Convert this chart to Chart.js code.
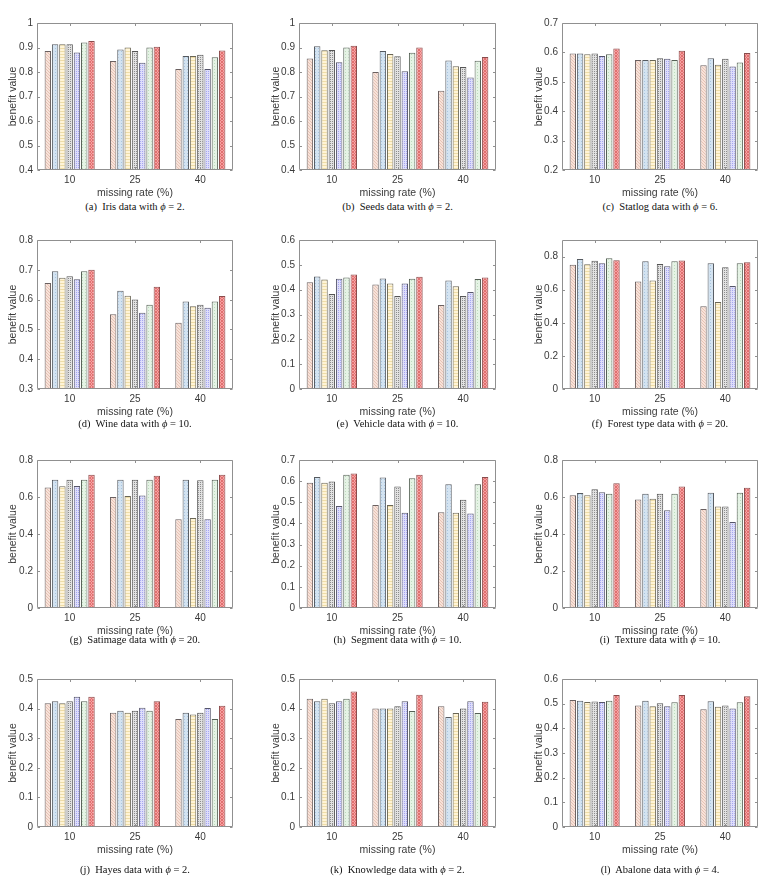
<!DOCTYPE html>
<html>
<head>
<meta charset="utf-8">
<script src="https://cdn.jsdelivr.net/npm/chart.js@4"></script>
<style>
  html, body { margin: 0; padding: 0; background: #fff; }
  #page { position: relative; width: 777px; height: 890px; overflow: hidden; }
  .caption { position: absolute; font-family: 'Liberation Serif', 'Times New Roman', serif; font-size: 10.5px; color: #111; white-space: nowrap; transform: translateX(-50%); line-height: 12px; }
  .caption i { font-family: 'Liberation Serif', 'DejaVu Serif', serif; }
</style>
</head>
<body>
<div id="page"></div>
<script>
const categories = ['10', '25', '40'];
const seriesNames = ['method 1', 'method 2', 'method 3', 'method 4', 'method 5', 'method 6', 'method 7'];

// one row per missing rate (10, 25, 40), one value per method
const iris = [
  [0.886, 0.913, 0.913, 0.913, 0.880, 0.920, 0.927],
  [0.845, 0.892, 0.900, 0.886, 0.838, 0.900, 0.903],
  [0.812, 0.865, 0.865, 0.870, 0.812, 0.860, 0.888]
];
const seeds = [
  [0.855, 0.905, 0.889, 0.890, 0.840, 0.900, 0.907],
  [0.800, 0.886, 0.873, 0.864, 0.803, 0.879, 0.900],
  [0.723, 0.847, 0.823, 0.820, 0.778, 0.846, 0.861]
];
const statlog = [
  [0.596, 0.596, 0.594, 0.596, 0.588, 0.594, 0.613],
  [0.574, 0.574, 0.574, 0.580, 0.578, 0.574, 0.606],
  [0.556, 0.580, 0.558, 0.578, 0.552, 0.566, 0.598]
];
const wine = [
  [0.656, 0.695, 0.673, 0.678, 0.668, 0.695, 0.700],
  [0.551, 0.630, 0.613, 0.600, 0.556, 0.583, 0.643],
  [0.522, 0.594, 0.578, 0.583, 0.573, 0.594, 0.612]
];
const vehicle = [
  [0.430, 0.453, 0.441, 0.383, 0.444, 0.449, 0.461],
  [0.421, 0.445, 0.425, 0.374, 0.425, 0.444, 0.452],
  [0.338, 0.437, 0.414, 0.374, 0.391, 0.443, 0.449]
];
const forestType = [
  [0.750, 0.785, 0.753, 0.775, 0.760, 0.790, 0.777],
  [0.650, 0.772, 0.655, 0.755, 0.741, 0.772, 0.776],
  [0.500, 0.760, 0.525, 0.735, 0.622, 0.760, 0.766]
];
const satimage = [
  [0.652, 0.693, 0.658, 0.693, 0.660, 0.693, 0.720],
  [0.600, 0.693, 0.606, 0.693, 0.608, 0.693, 0.715],
  [0.480, 0.693, 0.487, 0.690, 0.480, 0.693, 0.720]
];
const segment = [
  [0.592, 0.620, 0.592, 0.598, 0.482, 0.630, 0.636],
  [0.487, 0.617, 0.487, 0.575, 0.450, 0.614, 0.630],
  [0.453, 0.585, 0.450, 0.512, 0.447, 0.585, 0.620]
];
const texture = [
  [0.610, 0.622, 0.610, 0.642, 0.626, 0.618, 0.675],
  [0.587, 0.618, 0.590, 0.618, 0.528, 0.618, 0.657],
  [0.535, 0.623, 0.548, 0.548, 0.465, 0.623, 0.650]
];
const hayes = [
  [0.418, 0.425, 0.418, 0.425, 0.440, 0.425, 0.440],
  [0.386, 0.393, 0.386, 0.393, 0.403, 0.393, 0.425],
  [0.365, 0.386, 0.380, 0.386, 0.402, 0.365, 0.410]
];
const knowledge = [
  [0.433, 0.425, 0.433, 0.418, 0.425, 0.433, 0.458],
  [0.400, 0.400, 0.400, 0.408, 0.425, 0.392, 0.447],
  [0.408, 0.372, 0.385, 0.400, 0.425, 0.385, 0.423]
];
const abalone = [
  [0.515, 0.512, 0.507, 0.509, 0.507, 0.512, 0.535],
  [0.493, 0.512, 0.490, 0.502, 0.490, 0.506, 0.535],
  [0.477, 0.510, 0.488, 0.493, 0.480, 0.506, 0.530]
];

const panelData = [iris, seeds, statlog, wine, vehicle, forestType, satimage, segment, texture, hayes, knowledge, abalone];
const panelLetters = ['a', 'b', 'c', 'd', 'e', 'f', 'g', 'h', 'i', 'j', 'k', 'l'];
const panelNames = ['Iris', 'Seeds', 'Statlog', 'Wine', 'Vehicle', 'Forest type', 'Satimage', 'Segment', 'Texture', 'Hayes', 'Knowledge', 'Abalone'];
const phiValues = [2, 2, 6, 10, 10, 20, 20, 10, 10, 2, 2, 4];
const yMin = [0.4, 0.4, 0.2, 0.3, 0, 0, 0, 0, 0, 0, 0, 0];
const yMax = [1, 1, 0.7, 0.8, 0.6, 0.9, 0.8, 0.7, 0.8, 0.5, 0.5, 0.6];
const yStep = [0.1, 0.1, 0.1, 0.1, 0.1, 0.2, 0.2, 0.1, 0.2, 0.1, 0.1, 0.1];

const colLeft = [0, 260, 520];
const colWidth = [258, 258, 257];
const plotLeft = [37, 299, 562];
const plotRight = [233, 496, 758];
const yTitleX = [13, 276, 539];
const plotTop = [23, 240, 460, 679];
const plotBottom = [170, 389, 608, 827];
const captionY = [207, 424, 640, 870];
const xAxisHeight = 31;

const textColor = '#3a3a3a';
const frameColor = '#909090';
const tickFont = { family: "'Liberation Sans', Arial, sans-serif", size: 10 };
const titleFont = { family: "'Liberation Sans', Arial, sans-serif", size: 10.5 };

function makePattern(size, base, ink, cells) {
  const c = document.createElement('canvas');
  c.width = size; c.height = size;
  const g = c.getContext('2d');
  g.fillStyle = base;
  g.fillRect(0, 0, size, size);
  g.fillStyle = ink;
  cells.forEach(([x, y]) => g.fillRect(x, y, 1, 1));
  return g.createPattern(c, 'repeat');
}

const fills = [
  makePattern(3, '#f7e2d9', '#e6c2b4', [[0, 0], [1, 1], [2, 2]]),
  makePattern(3, '#d3e3f1', '#a9c5df', [[1, 1]]),
  makePattern(3, '#fff4d6', '#eedca6', [[0, 1], [1, 1], [2, 1]]),
  makePattern(2, '#e2e2e2', '#8c8c8c', [[0, 0]]),
  makePattern(2, '#dedefa', '#a6a6f0', [[0, 0]]),
  makePattern(3, '#e5f3e5', '#bcdabc', [[1, 1]]),
  makePattern(3, '#f6a2a2', '#e07070', [[0, 0], [2, 0], [1, 1], [0, 2], [2, 2]])
];
const edgeColors = ['#6a6060', '#555a60', '#6a6655', '#555555', '#55556a', '#556055', '#8a4c4c'];

const framePlugin = {
  id: 'frame',
  afterDraw(chart) {
    const { ctx, chartArea: a, scales: { x, y } } = chart;
    const L = Math.round(a.left) + 0.5, R = Math.round(a.right) - 0.5;
    const T = Math.round(a.top) + 0.5, B = Math.round(a.bottom) - 0.5;
    ctx.save();
    ctx.strokeStyle = frameColor;
    ctx.lineWidth = 1;
    ctx.beginPath();
    ctx.rect(L, T, R - L, B - T);
    y.ticks.forEach(t => {
      const py = Math.round(y.getPixelForValue(t.value)) + 0.5;
      ctx.moveTo(L, py); ctx.lineTo(L + 2.5, py);
      ctx.moveTo(R, py); ctx.lineTo(R - 2.5, py);
    });
    x.ticks.forEach((t, i) => {
      const px = Math.round(x.getPixelForTick(i)) + 0.5;
      ctx.moveTo(px, B); ctx.lineTo(px, B - 2.5);
      ctx.moveTo(px, T); ctx.lineTo(px, T + 2.5);
    });
    ctx.stroke();
    ctx.restore();
  }
};

const page = document.getElementById('page');

panelData.forEach((rows, p) => {
  const r = Math.floor(p / 3), c = p % 3;
  const left = colLeft[c], top = plotTop[r] - 12;
  const width = colWidth[c], height = plotBottom[r] - plotTop[r] + 12 + xAxisHeight;
  const step = yStep[p];

  const canvas = document.createElement('canvas');
  canvas.width = width;
  canvas.height = height;
  canvas.style.cssText = `position:absolute;left:${left}px;top:${top}px;width:${width}px;height:${height}px`;
  page.appendChild(canvas);

  new Chart(canvas, {
    type: 'bar',
    data: {
      labels: categories,
      datasets: seriesNames.map((name, s) => ({
        label: name,
        data: rows.map(g => g[s]),
        backgroundColor: fills[s],
        borderColor: edgeColors[s],
        borderWidth: 1,
        borderSkipped: false,
        categoryPercentage: 0.78,
        barPercentage: 0.88
      }))
    },
    options: {
      responsive: false,
      animation: false,
      devicePixelRatio: 1,
      layout: { padding: { top: 12, right: left + width - plotRight[c], left: 0, bottom: 0 } },
      plugins: { legend: { display: false }, tooltip: { enabled: false } },
      scales: {
        x: {
          grid: { display: false, drawTicks: false },
          border: { display: false },
          ticks: { color: textColor, font: tickFont, padding: 4, maxRotation: 0 },
          title: { display: true, text: 'missing rate (%)', color: textColor, font: titleFont, padding: { top: 0, bottom: 2 } },
          afterFit: s => { s.height = xAxisHeight; }
        },
        y: {
          min: yMin[p],
          max: yMax[p],
          grid: { display: false, drawTicks: false },
          border: { display: false },
          ticks: {
            stepSize: step,
            color: textColor,
            font: tickFont,
            padding: 4,
            callback: v => String(Number(v.toFixed(2)))
          },
          afterBuildTicks: s => {
            s.ticks = s.ticks.filter(t => Math.abs(t.value / step - Math.round(t.value / step)) < 1e-6);
          },
          title: { display: true, text: 'benefit value', color: textColor, font: titleFont, padding: { top: yTitleX[c] - left - 6.3, bottom: 0 } },
          afterFit: s => { s.width = plotLeft[c] - left; }
        }
      }
    },
    plugins: [framePlugin]
  });

  const cap = document.createElement('div');
  cap.className = 'caption';
  cap.style.left = ((plotLeft[c] + plotRight[c]) / 2) + 'px';
  cap.style.top = (captionY[r] - 6) + 'px';
  cap.innerHTML = `(${panelLetters[p]})&nbsp; ${panelNames[p]} data with <i>ϕ</i> = ${phiValues[p]}.`;
  page.appendChild(cap);
});
</script>
</body>
</html>
